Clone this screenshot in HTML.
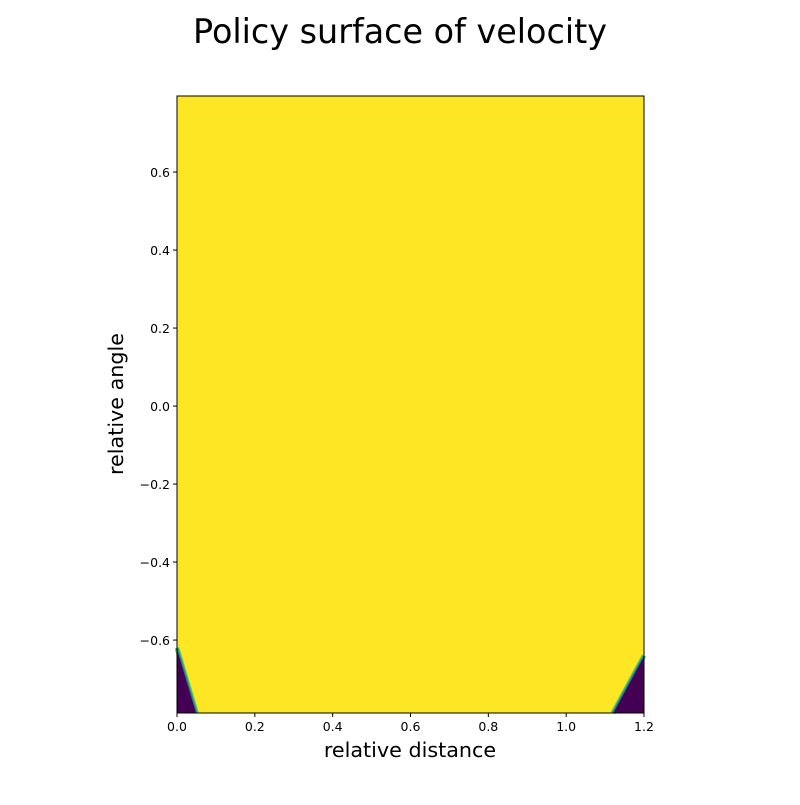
<!DOCTYPE html>
<html><head><meta charset="utf-8"><style>
body{margin:0;background:#fff;}
svg text{font-family:"DejaVu Sans","Liberation Sans",sans-serif;}
</style></head><body>
<svg id="chart" width="800" height="800" viewBox="0 0 800 800">
<text x="400" y="43" text-anchor="middle" font-size="33.4">Policy surface of velocity</text>
<g id="plot"></g>
<text x="410" y="757" text-anchor="middle" font-size="20.7">relative distance</text>
<text x="0" y="0" transform="translate(123,404) rotate(-90)" text-anchor="middle" font-size="20.7">relative angle</text>
</svg>
<script>
const xTicks=[0.0,0.2,0.4,0.6,0.8,1.0,1.2];
const yTicks=[-0.6,-0.4,-0.2,0.0,0.2,0.4,0.6];
const xDomain=[0,1.2];
const yDomain=[-0.787,0.795];
// low-velocity regions: boundary vertices [distance, angle]
const leftRegion=[[0,-0.62],[0.05,-0.787],[0,-0.787]];
const rightRegion=[[1.2,-0.64],[1.12,-0.787],[1.2,-0.787]];
const L=177,R=644,T=96,B=713;
const sx=v=>L+(v-xDomain[0])/(xDomain[1]-xDomain[0])*(R-L);
const sy=v=>B-(v-yDomain[0])/(yDomain[1]-yDomain[0])*(B-T);
const ns="http://www.w3.org/2000/svg";
const g=document.getElementById('plot');
function mk(tag,attrs){const e=document.createElementNS(ns,tag);for(const k in attrs)e.setAttribute(k,attrs[k]);g.appendChild(e);return e;}
let bg=mk('rect',{x:L,y:T,width:R-L,height:B-T,fill:'#fde725'});


[[leftRegion,'heatmap-low-region-left'],[rightRegion,'heatmap-low-region-right']].forEach(([pts,name])=>{
  const p=pts.map(d=>sx(d[0])+','+sy(d[1])).join(' ');
  const line=sx(pts[0][0])+','+sy(pts[0][1])+' '+sx(pts[1][0])+','+sy(pts[1][1]);
  const e1=mk('polyline',{points:line,stroke:'#7ad151',"stroke-width":5,fill:'none'});
  
  
  const e2=mk('polyline',{points:line,stroke:'#22a884',"stroke-width":3,fill:'none'});
  
  
  const poly=mk('polygon',{points:p,fill:'#440154',stroke:'#31688e',"stroke-width":1});
  
  
});
let fr=mk('rect',{x:L,y:T,width:R-L,height:B-T,fill:'none',stroke:'#000',"stroke-width":1});


xTicks.forEach(v=>{
  const x=sx(v);
  const t=mk('line',{x1:x,x2:x,y1:B,y2:B+4,stroke:'#000'});
  
  
  const l=mk('text',{x:x,y:B+18,"text-anchor":'middle',"font-size":12.5});
  l.textContent=v.toFixed(1);
  
  
});
yTicks.forEach(v=>{
  const y=sy(v);
  const t=mk('line',{x1:L-4,x2:L,y1:y,y2:y,stroke:'#000'});
  
  
  const l=mk('text',{x:L-7,y:y+5,"text-anchor":'end',"font-size":12.5});
  l.textContent=(v<0?'\u2212':'')+Math.abs(v).toFixed(1);
  
  
});
</script>
</body></html>
